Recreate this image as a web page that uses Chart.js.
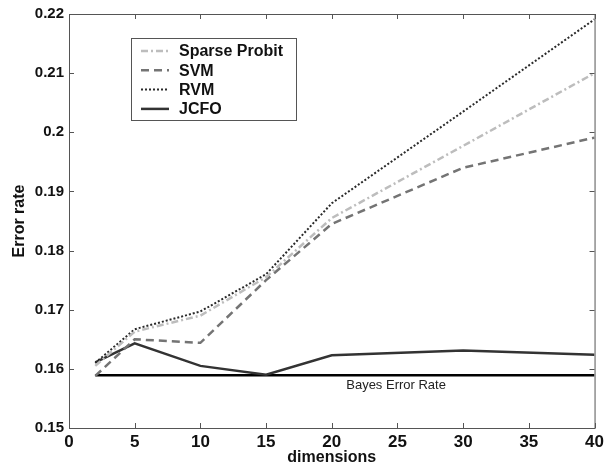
<!DOCTYPE html>
<html>
<head>
<meta charset="utf-8">
<script src="https://cdn.jsdelivr.net/npm/chart.js@4/dist/chart.umd.min.js"></script>
<style>
  html, body { margin: 0; padding: 0; background: #fff; }
  #wrap { width: 608px; height: 467px; position: relative; }
</style>
</head>
<body>
<div id="wrap"><canvas id="errChart"></canvas></div>
<script>
/* ------------------------------------------------------------------
   DATA — error rate vs. number of dimensions
   ------------------------------------------------------------------ */
var dims         = [2, 5, 10, 15, 20, 30, 40];
var sparseProbit = [0.1605, 0.1663, 0.1690, 0.1755, 0.1855, 0.1977, 0.2100];
var svm          = [0.1588, 0.1650, 0.1644, 0.1750, 0.1845, 0.1940, 0.1991];
var rvm          = [0.1610, 0.1667, 0.1697, 0.1760, 0.1880, 0.2035, 0.2191];
var jcfo         = [0.1611, 0.1643, 0.1605, 0.1590, 0.1623, 0.1631, 0.1624];
var bayesDims    = [2, 40];
var bayesRate    = [0.1589, 0.1589];
var xTicks       = [0, 5, 10, 15, 20, 25, 30, 35, 40];
var yTicks       = [0.15, 0.16, 0.17, 0.18, 0.19, 0.2, 0.21, 0.22];

var FONT = "'Liberation Sans', Arial, sans-serif";

function toPoints(xs, ys) {
  return xs.map(function (x, i) { return { x: x, y: ys[i] }; });
}

var SERIES = [
  { label: 'Sparse Probit', data: sparseProbit, color: '#bdbdbd', dash: [7, 3, 2, 3], width: 2.5 },
  { label: 'SVM',           data: svm,          color: '#747474', dash: [8, 5],       width: 2.5 },
  { label: 'RVM',           data: rvm,          color: '#2a2a2a', dash: [2, 2],       width: 2 },
  { label: 'JCFO',          data: jcfo,         color: '#333333', dash: [],           width: 2.5 }
];

/* ------------------------------------------------------------------
   PLUGIN — box frame, inward ticks, legend box, Bayes label
   ------------------------------------------------------------------ */
var framePlugin = {
  id: 'frame',
  afterDatasetsDraw: function (chart) {
    var ctx = chart.ctx, a = chart.chartArea;
    var xs = chart.scales.x, ys = chart.scales.y;
    ctx.save();
    ctx.strokeStyle = '#555';
    ctx.lineWidth = 1;
    ctx.strokeRect(a.left + 0.5, a.top + 0.5, a.right - a.left, a.bottom - a.top);

    // inward tick marks
    ctx.beginPath();
    xTicks.forEach(function (v) {
      var px = Math.round(xs.getPixelForValue(v)) + 0.5;
      ctx.moveTo(px, a.bottom); ctx.lineTo(px, a.bottom - 5);
      ctx.moveTo(px, a.top);    ctx.lineTo(px, a.top + 5);
    });
    yTicks.forEach(function (v) {
      var py = Math.round(ys.getPixelForValue(v)) + 0.5;
      ctx.moveTo(a.left, py);  ctx.lineTo(a.left + 5, py);
      ctx.moveTo(a.right, py); ctx.lineTo(a.right - 5, py);
    });
    ctx.stroke();

    // Bayes label under the line
    ctx.fillStyle = '#222';
    ctx.font = '13px ' + FONT;
    ctx.textBaseline = 'top';
    ctx.fillText('Bayes Error Rate', xs.getPixelForValue(21.1), ys.getPixelForValue(bayesRate[0]) + 4);

    // legend box
    var lx = 131, ly = 38, lw = 165, lh = 82;
    ctx.fillStyle = '#fff';
    ctx.fillRect(lx, ly, lw, lh);
    ctx.strokeStyle = '#555';
    ctx.lineWidth = 1;
    ctx.strokeRect(lx + 0.5, ly + 0.5, lw, lh);
    ctx.font = 'bold 16px ' + FONT;
    ctx.textBaseline = 'middle';
    SERIES.forEach(function (s, i) {
      var cy = ly + 13 + i * 19.3;
      ctx.strokeStyle = s.color;
      ctx.lineWidth = s.width;
      ctx.setLineDash(s.dash);
      ctx.beginPath();
      ctx.moveTo(lx + 10, cy); ctx.lineTo(lx + 38, cy);
      ctx.stroke();
      ctx.setLineDash([]);
      ctx.fillStyle = '#111';
      ctx.fillText(s.label, lx + 48, cy + 1);
    });
    ctx.restore();
  }
};

var datasets = SERIES.map(function (s) {
  return {
    label: s.label,
    data: toPoints(dims, s.data),
    borderColor: s.color,
    borderWidth: s.width,
    borderDash: s.dash,
    pointRadius: 0,
    tension: 0,
    fill: false
  };
});
datasets.push({
  label: 'Bayes',
  data: toPoints(bayesDims, bayesRate),
  borderColor: '#000',
  borderWidth: 2.5,
  pointRadius: 0,
  fill: false
});

new Chart(document.getElementById('errChart'), {
  type: 'line',
  data: { datasets: datasets },
  options: {
    responsive: true,
    maintainAspectRatio: false,
    animation: false,
    layout: { padding: { top: 11, right: 9, left: 0, bottom: 0 } },
    plugins: { legend: { display: false }, tooltip: { enabled: false } },
    scales: {
      x: {
        type: 'linear',
        min: 0, max: 40,
        afterFit: function (s) { s.height = 39; },
        afterBuildTicks: function (s) { s.ticks = xTicks.map(function (v) { return { value: v }; }); },
        grid: { display: false, drawTicks: false },
        border: { display: false },
        ticks: { color: '#111', font: { family: FONT, size: 17, weight: 'bold' }, padding: 4, maxRotation: 0 },
        title: { display: true, text: 'dimensions', color: '#111', font: { family: FONT, size: 16, weight: 'bold' }, padding: { top: 0, bottom: 0 } }
      },
      y: {
        min: 0.15, max: 0.22,
        afterFit: function (s) { s.width = 69; },
        afterBuildTicks: function (s) { s.ticks = yTicks.map(function (v) { return { value: v }; }); },
        grid: { display: false, drawTicks: false },
        border: { display: false },
        ticks: {
          color: '#111', padding: 5,
          font: { family: FONT, size: 15, weight: 'bold' },
          callback: function (v) { return String(Number(v.toFixed(2))); }
        },
        title: { display: true, text: 'Error rate', color: '#111', font: { family: FONT, size: 16, weight: 'bold' }, padding: { top: 10, bottom: 0 } }
      }
    }
  },
  plugins: [framePlugin]
});
</script>
</body>
</html>
